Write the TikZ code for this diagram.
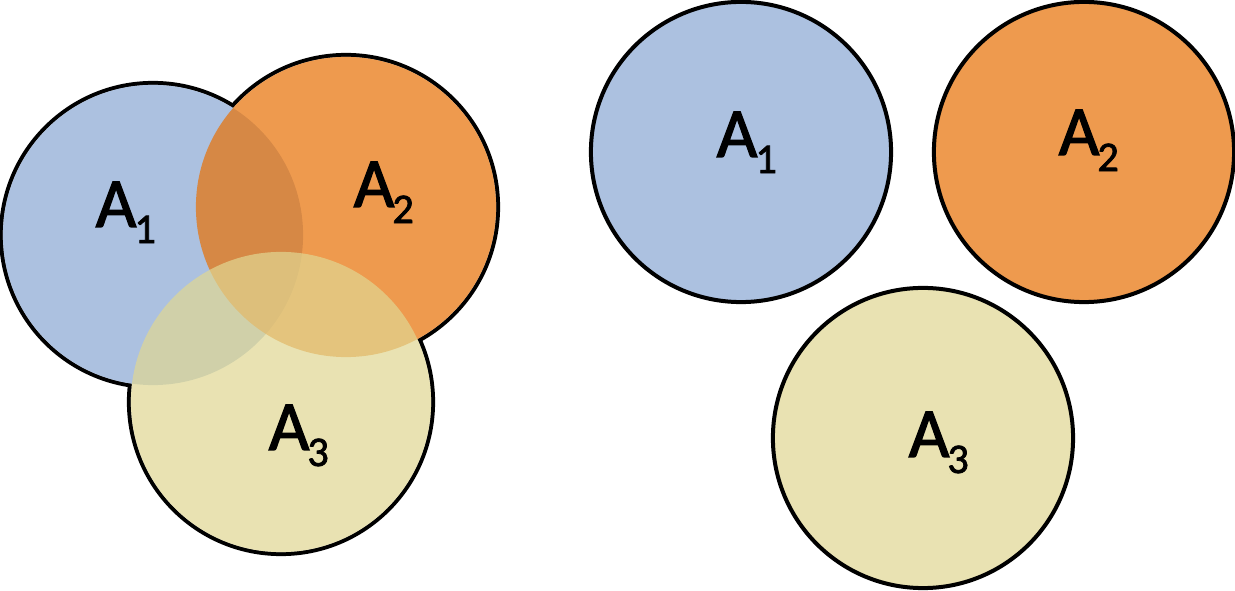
\documentclass[tikz,border=0pt]{standalone}
\usepackage{fontspec}
\setmainfont{Carlito}
\newfontfamily\setfont{Carlito}[FakeBold=1.8]
\usepackage{tikz}
\definecolor{setblue}{RGB}{138,168,211}
\definecolor{setorange}{RGB}{232,112,4}
\definecolor{setyellow}{RGB}{224,215,146}
\tikzstyle{rim} = [draw=black, line width=0.08cm]
\tikzstyle{thinrim} = [draw=black, line width=0.04cm]
\tikzstyle{tint} = [fill opacity=0.7]
\tikzstyle{setlabel} = [anchor=base west, inner sep=0pt,
font=\setfont\fontsize{20}{24}\selectfont]
\newcommand{\setname}[1]{A\kern-0.02cm\raisebox{-0.16cm}{\fontsize{12}{14}\selectfont #1}}

\begin{document}
\begin{tikzpicture}[x=0.01cm, y=-0.01cm]
\useasboundingbox (0,0) rectangle (1235,591);

% overlapping sets
\coordinate (vA1) at (153,235);
\coordinate (vA2) at (346,207);
\coordinate (vA3) at (281,402);
% separate sets
\coordinate (sA1) at (741,152);
\coordinate (sA2) at (1084,152);
\coordinate (sA3) at (923,438);

\foreach \c in {vA1,vA2,vA3} \draw[rim] (\c) circle[radius=1.5cm];
\foreach \c in {vA1,vA2,vA3} \fill[white] (\c) circle[radius=1.5cm];
\foreach \c/\col in {vA1/setblue,vA2/setorange,vA3/setyellow}
  \fill[tint,\col] (\c) circle[radius=1.5cm];

\foreach \c/\col in {sA1/setblue,sA2/setorange,sA3/setyellow}{
  \fill[white] (\c) circle[radius=1.5cm];
  \fill[tint,\col] (\c) circle[radius=1.5cm];
  \draw[thinrim] (\c) circle[radius=1.5cm];
}

\node(vlabel1)[setlabel] at (95,227){\setname{1}};
\node(vlabel2)[setlabel] at (353,207){\setname{2}};
\node(vlabel3)[setlabel] at (268,450){\setname{3}};
\node(slabel1)[setlabel] at (716,157){\setname{1}};
\node(slabel2)[setlabel] at (1058,155){\setname{2}};
\node(slabel3)[setlabel] at (908,457){\setname{3}};

\end{tikzpicture}
\end{document}
